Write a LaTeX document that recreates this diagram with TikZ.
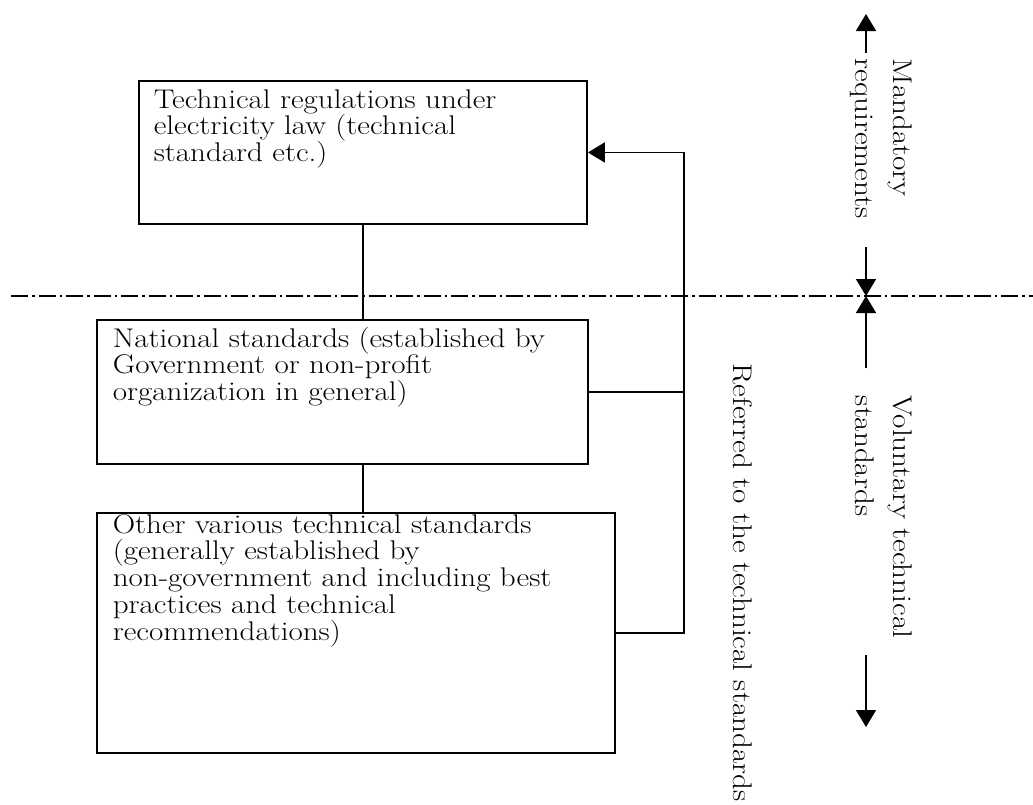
\documentclass[tikz,border=0pt]{standalone}
\usetikzlibrary{arrows.meta,calc}
\lineskiplimit=-100pt
% wide setting of the body text
\newcommand{\widetext}[2]{\scalebox{1.15}[1]{\parbox[t]{#1}{\lineskiplimit=-100pt\raggedright #2}}}
\begin{document}
\begin{tikzpicture}[x=1pt,y=-1pt,
  line width=1.7pt,
  box/.style={draw, line width=1.9pt, anchor=north west, inner sep=0pt},
  txt/.style={anchor=base west, inner sep=0pt, font=\fontsize{27}{26.8}\selectfont},
  side/.style={anchor=base west, inner sep=0pt, rotate=-90, font=\fontsize{27}{38}\selectfont},
  tip/.style={-{Triangle[length=17pt,width=20pt]}},
  dashdot/.style={dash pattern=on 17pt off 4pt on 2.5pt off 4pt}
]
\useasboundingbox (0,0) rectangle (1033,804);

% the three levels of standards
\node[box, minimum width=448pt, minimum height=143pt] (reg) at (138,80) {};
\node[box, minimum width=491pt, minimum height=144pt] (nat) at (96,319) {};
\node[box, minimum width=518pt, minimum height=240pt] (oth) at (96,512) {};

\node[txt] (regtext) at (153,108) {\widetext{380pt}{%
  Technical regulations under\\ electricity law (technical\\ standard etc.)}};
\node[txt] (nattext) at (112,347) {\widetext{410pt}{%
  National standards (established by\\ Government or non-profit\\ organization in general)}};
\node[txt] (othtext) at (112,533) {\widetext{440pt}{%
  Other various technical standards\\ (generally established by\\
  non-government and including best\\ practices and technical\\ recommendations)}};

% links between the levels
\draw (reg.south) -- (reg.south |- nat.north);
\draw (reg.south |- nat.south) -- (reg.south |- oth.north);

% referral back to the technical regulations
\coordinate (bus) at (684,0);
\draw (nat.east) -- (nat.east -| bus);
\draw[tip] (oth.east) -| (bus |- reg.east) -- (reg.east);
\node[side] (reftext) at (733,363) {\scalebox{1.15}[1]{Referred to the technical standards}};

% boundary between mandatory and voluntary
\coordinate (dl) at (11,296);
\coordinate (dr) at (1033,296);
\draw[dashdot] (dl) -- (dr);

% range arrows on the right
\coordinate (mtop) at (866,14);
\coordinate (mtopl) at (866,53);
\coordinate (mbot) at (866,247);
\coordinate (mid) at (866,296);
\coordinate (vtop) at (866,368);
\coordinate (vbot) at (866,655);
\coordinate (vend) at (866,727);
\draw[tip] (mtopl) -- (mtop);
\draw[tip] (mbot) -- (mid);
\draw[tip] (vtop) -- (mid);
\draw[tip] (vbot) -- (vend);

\node[side] (mandtext) at (893,58) {\scalebox{1.15}[1]{\parbox[t]{190pt}{\raggedright Mandatory\\ requirements}}};
\node[side] (voltext) at (893,395) {\scalebox{1.15}[1]{\parbox[t]{280pt}{\raggedright Voluntary technical\\ standards}}};
\end{tikzpicture}
\end{document}
